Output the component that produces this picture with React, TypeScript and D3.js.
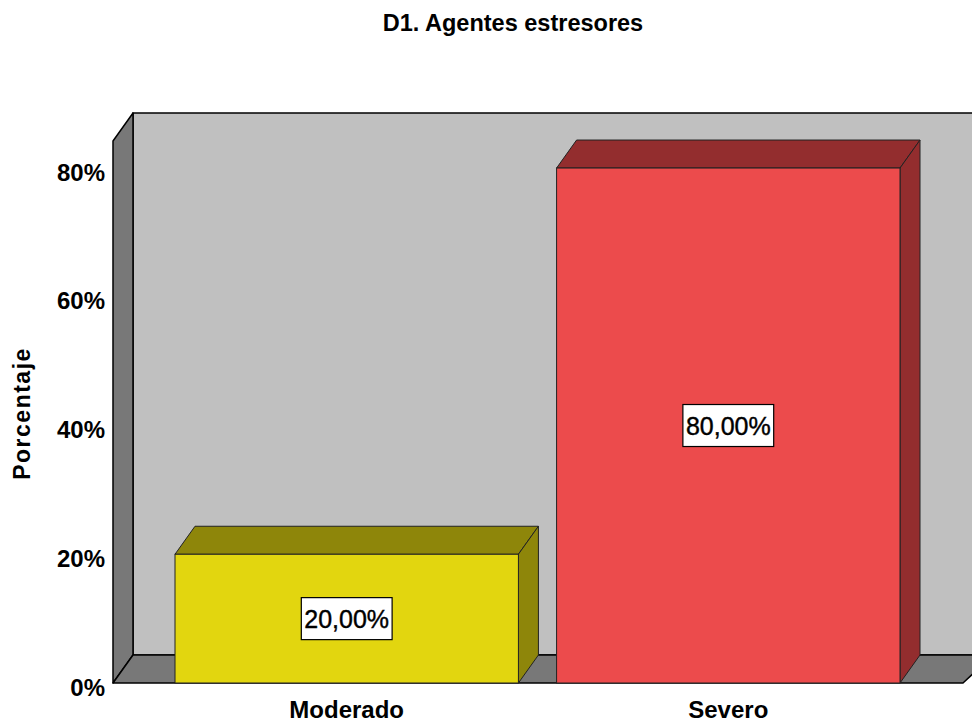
import { useEffect, useRef } from 'react';
import * as d3 from 'd3';

const categories: string[] = ["Moderado", "Severo"];
const percentages: number[] = [0.2, 0.8];
const valueLabels: string[] = ["20,00%", "80,00%"];
const yTicks: number[] = [0, 0.2, 0.4, 0.6, 0.8];
const frontColors: string[] = ["#e2d60f", "#ec4b4c"];
const darkColors: string[] = ["#8e860a", "#932d2e"];

const WIDTH = 972;
const HEIGHT = 722;
const FONT = "'Liberation Sans', Arial, sans-serif";

const App = () => {
  const svgRef = useRef<SVGSVGElement | null>(null);

  useEffect(() => {
    const svg = d3.select(svgRef.current);
    svg.selectAll("*").remove();

    // 3D depth offset
    const dx = 20;
    const dy = -28;

    const left = 113;
    const right = 963;
    const bottom = 683;

    const y = d3.scaleLinear().domain([0, 0.842]).range([bottom, 141]);
    const x = d3.scaleBand<string>()
      .domain(categories)
      .range([175, 900])
      .paddingInner(0.1)
      .paddingOuter(0);

    const top = y(0.842);

    // back wall
    svg.append("rect")
      .attr("x", left + dx)
      .attr("y", top + dy)
      .attr("width", right - left + 10)
      .attr("height", bottom - top)
      .attr("fill", "#c0c0c0")
      .attr("stroke", "#000")
      .attr("stroke-width", 1.5);

    // left wall
    svg.append("polygon")
      .attr("points", [
        [left, bottom], [left, top], [left + dx, top + dy], [left + dx, bottom + dy]
      ].map(p => p.join(",")).join(" "))
      .attr("fill", "#787878")
      .attr("stroke", "#000")
      .attr("stroke-width", 1.5)
      .attr("stroke-linejoin", "round");

    // floor
    svg.append("polygon")
      .attr("points", [
        [left, bottom], [left + dx, bottom + dy], [right + dx + 10, bottom + dy], [right, bottom]
      ].map(p => p.join(",")).join(" "))
      .attr("fill", "#787878")
      .attr("stroke", "#000")
      .attr("stroke-width", 1.5)
      .attr("stroke-linejoin", "round");

    // bars
    categories.forEach((cat, i) => {
      const x0 = x(cat) as number;
      const x1 = x0 + x.bandwidth();
      const yt = y(percentages[i]);
      const g = svg.append("g");

      g.append("polygon")
        .attr("points", [
          [x0, yt], [x0 + dx, yt + dy], [x1 + dx, yt + dy], [x1, yt]
        ].map(p => p.join(",")).join(" "))
        .attr("fill", darkColors[i])
        .attr("stroke", "#222")
        .attr("stroke-width", 1)
        .attr("stroke-linejoin", "round");

      g.append("polygon")
        .attr("points", [
          [x1, yt], [x1 + dx, yt + dy], [x1 + dx, bottom + dy], [x1, bottom]
        ].map(p => p.join(",")).join(" "))
        .attr("fill", darkColors[i])
        .attr("stroke", "#222")
        .attr("stroke-width", 1)
        .attr("stroke-linejoin", "round");

      g.append("rect")
        .attr("x", x0)
        .attr("y", yt)
        .attr("width", x1 - x0)
        .attr("height", bottom - yt)
        .attr("fill", frontColors[i])
        .attr("stroke", "#222")
        .attr("stroke-width", 1);

      // value label box
      const cx = (x0 + x1) / 2;
      const cy = (yt + bottom) / 2;
      const label = g.append("text")
        .attr("x", cx)
        .attr("y", cy)
        .attr("text-anchor", "middle")
        .attr("dominant-baseline", "central")
        .attr("font-family", FONT)
        .attr("font-size", 25)
        .attr("fill", "#000")
        .attr("stroke", "#000")
        .attr("stroke-width", 0.4)
        .text(valueLabels[i]);
      const bb = (label.node() as SVGTextElement).getBBox();
      g.insert("rect", "text")
        .attr("x", cx - bb.width / 2 - 3)
        .attr("y", cy - 21)
        .attr("width", bb.width + 6)
        .attr("height", 42)
        .attr("fill", "#fff")
        .attr("stroke", "#000")
        .attr("stroke-width", 1.2);

      // category label
      svg.append("text")
        .attr("x", cx)
        .attr("y", 718)
        .attr("text-anchor", "middle")
        .attr("font-family", FONT)
        .attr("font-weight", "bold")
        .attr("font-size", 24)
        .attr("fill", "#000")
        .text(cat);
    });

    // y tick labels
    svg.append("g")
      .selectAll("text")
      .data(yTicks)
      .join("text")
      .attr("x", 105)
      .attr("y", d => y(d) + 4)
      .attr("text-anchor", "end")
      .attr("dominant-baseline", "central")
      .attr("font-family", FONT)
      .attr("font-weight", "bold")
      .attr("font-size", 24)
      .attr("fill", "#000")
      .text(d => `${Math.round(d * 100)}%`);

    // y axis title
    svg.append("text")
      .attr("transform", `translate(30,${(345 + 482) / 2}) rotate(-90)`)
      .attr("text-anchor", "middle")
      .attr("font-family", FONT)
      .attr("font-weight", "bold")
      .attr("font-size", 23)
      .attr("letter-spacing", 1.5)
      .attr("fill", "#000")
      .text("Porcentaje");

    // title
    svg.append("text")
      .attr("x", 513)
      .attr("y", 31)
      .attr("text-anchor", "middle")
      .attr("font-family", FONT)
      .attr("font-weight", "bold")
      .attr("font-size", 23.5)
      .attr("fill", "#000")
      .text("D1. Agentes estresores");
  }, []);

  return (
    <svg
      ref={svgRef}
      width={WIDTH}
      height={HEIGHT}
      style={{ position: 'absolute', left: 0, top: 0, background: '#fff' }}
    />
  );
};

export default App;
